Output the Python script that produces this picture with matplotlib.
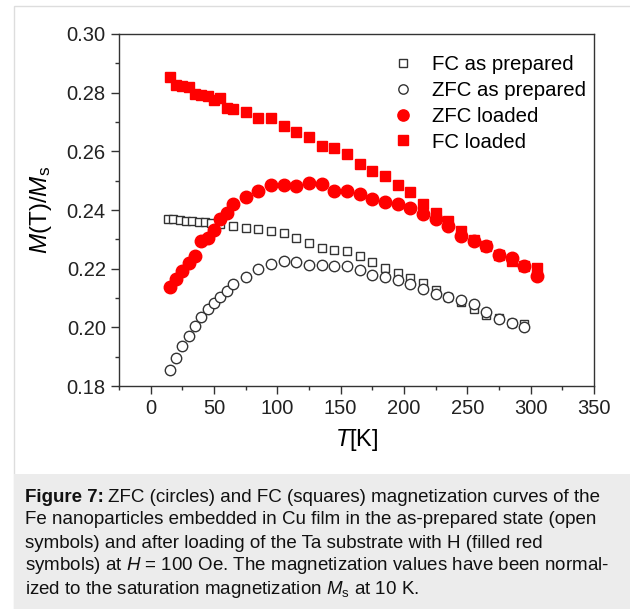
import numpy as np
import matplotlib
matplotlib.use("Agg")
import matplotlib.pyplot as plt
from matplotlib.patches import Rectangle
from matplotlib.ticker import MultipleLocator, FormatStrFormatter

plt.rcParams['font.family'] = ['Liberation Sans', 'DejaVu Sans']
plt.rcParams['mathtext.fontset'] = 'custom'
plt.rcParams['mathtext.rm'] = 'Liberation Sans'
plt.rcParams['mathtext.it'] = 'Liberation Sans:italic'
plt.rcParams['mathtext.bf'] = 'Liberation Sans:bold'

# temperatures (K)
T_red = [15, 20, 25, 30, 35, 40, 45, 50, 55, 60, 65, 75, 85, 95, 105, 115, 125,
         135, 145, 155, 165, 175, 185, 195, 205, 215, 225, 235, 245, 255, 265,
         275, 285, 295, 305]
T_fc_prep = [14, 18, 23, 28, 33, 38, 43, 48, 55, 65, 75, 85, 95, 105, 115, 125,
             135, 145, 155, 165, 175, 185, 195, 205, 215, 225, 235, 245, 255,
             265, 275, 285, 295]
T_zfc_prep = [15, 20, 25, 30, 35, 40, 45, 50, 55, 60, 65, 75, 85, 95, 105, 115,
              125, 135, 145, 155, 165, 175, 185, 195, 205, 215, 225, 235, 245,
              255, 265, 275, 285, 295]

# normalised magnetisation
fc_loaded = [0.2852, 0.2827, 0.2823, 0.2821, 0.2795, 0.2793, 0.2789, 0.2776,
             0.2781, 0.2749, 0.2746, 0.2734, 0.2715, 0.2712, 0.2687, 0.2666,
             0.2650, 0.2618, 0.2610, 0.2592, 0.2556, 0.2533, 0.2516, 0.2485,
             0.2462, 0.2422, 0.2390, 0.2362, 0.2330, 0.2299, 0.2276, 0.2248,
             0.2225, 0.2208, 0.2202]
zfc_loaded = [0.2137, 0.2166, 0.2193, 0.2219, 0.2244, 0.2293, 0.2305, 0.2333,
              0.2368, 0.2390, 0.2421, 0.2444, 0.2464, 0.2484, 0.2485, 0.2481,
              0.2493, 0.2488, 0.2466, 0.2465, 0.2456, 0.2436, 0.2427, 0.2419,
              0.2407, 0.2385, 0.2368, 0.2345, 0.2313, 0.2293, 0.2276, 0.2248,
              0.2237, 0.2208, 0.2174]
fc_prep = [0.2370, 0.2368, 0.2365, 0.2364, 0.2361, 0.2360, 0.2358, 0.2356,
           0.2352, 0.2345, 0.2339, 0.2336, 0.2330, 0.2322, 0.2305, 0.2288,
           0.2272, 0.2265, 0.2259, 0.2244, 0.2222, 0.2202, 0.2185, 0.2168,
           0.2151, 0.2128, 0.2105, 0.2085, 0.2062, 0.2043, 0.2031, 0.2014,
           0.2012]
zfc_prep = [0.1855, 0.1897, 0.1938, 0.1972, 0.2003, 0.2035, 0.2062, 0.2083,
            0.2103, 0.2125, 0.2148, 0.2170, 0.2199, 0.2216, 0.2225, 0.2222,
            0.2214, 0.2211, 0.2210, 0.2208, 0.2195, 0.2177, 0.2170, 0.2162,
            0.2148, 0.2131, 0.2113, 0.2102, 0.2094, 0.2079, 0.2051, 0.2029,
            0.2016, 0.2002]

cap_head = "Figure 7:"
cap_lines = ["ZFC (circles) and FC (squares) magnetization curves of the",
             "Fe nanoparticles embedded in Cu film in the as-prepared state (open",
             "symbols) and after loading of the Ta substrate with H (filled red",
             "symbols) at $\\mathit{H}$ = 100 Oe. The magnetization values have been normal-",
             "ized to the saturation magnetization $\\mathit{M}_\\mathrm{s}$ at 10 K."]

fig = plt.figure(figsize=(6.3, 6.09), dpi=100)

# page frame and caption box
fig.patches.append(Rectangle((14/630, 0), 1.0, 1 - 6/609, transform=fig.transFigure,
                             facecolor='white', edgecolor='#dddddd', lw=1, zorder=-2))
fig.patches.append(Rectangle((14/630, 0), 1.0, (609-474)/609, transform=fig.transFigure,
                             facecolor='#ececec', edgecolor='none', zorder=-1))

ax = fig.add_axes([119/630, (609-386)/609, 475/630, 352/609])

ax.plot(T_fc_prep, fc_prep, 's', ms=6, mfc='white', mec='#333333', mew=1.0,
        label='FC as prepared', zorder=2)
ax.plot(T_zfc_prep, zfc_prep, 'o', ms=7.5, mfc='white', mec='#333333', mew=1.0,
        label='ZFC as prepared', zorder=2)
ax.plot(T_red, zfc_loaded, 'o', ms=9, color='red', mec='red',
        label='ZFC loaded', zorder=3)
ax.plot(T_red, fc_loaded, 's', ms=7.5, color='red', mec='red',
        label='FC loaded', zorder=3)

ax.set_xlim(-25, 350)
ax.set_ylim(0.18, 0.30)
ax.xaxis.set_major_locator(MultipleLocator(50))
ax.xaxis.set_minor_locator(MultipleLocator(25))
ax.yaxis.set_major_locator(MultipleLocator(0.02))
ax.yaxis.set_minor_locator(MultipleLocator(0.01))
ax.yaxis.set_major_formatter(FormatStrFormatter('%.2f'))
ax.tick_params(which='both', direction='out', top=False, right=False,
               colors='#333333', labelcolor='#222222', labelsize=14.5, width=1)
ax.tick_params(which='major', length=6)
ax.tick_params(which='minor', length=3)
for s in ax.spines.values():
    s.set_color('#333333')
    s.set_linewidth(1)

ax.set_xlabel(r'$\mathit{T}$[K]', fontsize=17, labelpad=6)
ax.set_ylabel(r'$\mathit{M}$(T)/$\mathit{M}_\mathrm{s}$', fontsize=17.5, labelpad=9)

leg = ax.legend(loc='upper left', bbox_to_anchor=(0.547, 0.98), frameon=False,
                fontsize=14.7, handletextpad=0.9, labelspacing=0.33,
                handlelength=1.0, markerscale=0.9, borderaxespad=0.3)

# caption, one line at a time
fs = 13.5
head = fig.text(25/630, 1 - 497/609, cap_head, fontsize=fs, fontweight='bold',
                va='center', ha='left', color='#111111')
fig.canvas.draw()
hb = head.get_window_extent()
fig.text((hb.x1 + 4)/630, 1 - 497/609, cap_lines[0], fontsize=fs,
         va='center', ha='left', color='#111111')
for i, line in enumerate(cap_lines[1:]):
    fig.text(25/630, 1 - (497 + 23*(i+1))/609, line, fontsize=fs,
             va='center', ha='left', color='#111111')

fig.savefig('out.png', dpi=100)
